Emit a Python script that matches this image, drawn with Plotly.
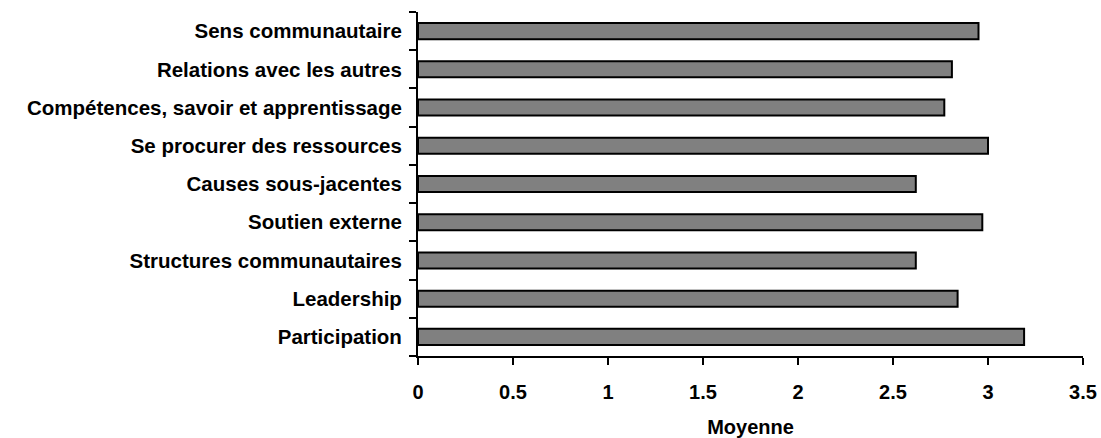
import plotly.graph_objects as go

categories = [
    "Participation",
    "Leadership",
    "Structures communautaires",
    "Soutien externe",
    "Causes sous-jacentes",
    "Se procurer des ressources",
    "Compétences, savoir et apprentissage",
    "Relations avec les autres",
    "Sens communautaire",
]
values = [3.19, 2.84, 2.62, 2.97, 2.62, 3.00, 2.77, 2.81, 2.95]
x_ticks = [0, 0.5, 1, 1.5, 2, 2.5, 3, 3.5]
x_tick_labels = ["0", "0.5", "1", "1.5", "2", "2.5", "3", "3.5"]

fig = go.Figure(
    go.Bar(
        y=categories,
        x=values,
        orientation="h",
        marker=dict(color="#808080", line=dict(color="black", width=2)),
    )
)

FAM = "Liberation Sans, Arial, sans-serif"
SZ = 20

fig.update_layout(
    width=1101,
    height=438,
    margin=dict(l=418, r=18, t=12, b=82, autoexpand=False),
    plot_bgcolor="white",
    paper_bgcolor="white",
    bargap=0.58,
    showlegend=False,
    font=dict(family=FAM, size=SZ, color="black"),
)
fig.update_xaxes(
    range=[0, 3.5],
    tickvals=x_ticks,
    ticktext=x_tick_labels,
    automargin=False,
    showgrid=False,
    zeroline=False,
    showline=True,
    linecolor="black",
    linewidth=2,
    ticks="outside",
    ticklen=7,
    tickwidth=2,
    tickcolor="black",
    tickfont=dict(family=FAM, size=SZ, weight="bold"),
    ticklabelstandoff=10,
    title=dict(text="<b>Moyenne</b>", font=dict(family=FAM, size=SZ), standoff=18),
)
fig.update_yaxes(
    type="category",
    categoryorder="array",
    categoryarray=categories,
    range=[-0.5, 8.5],
    automargin=False,
    showgrid=False,
    zeroline=False,
    showline=True,
    linecolor="black",
    linewidth=2,
    ticks="outside",
    tickson="boundaries",
    ticklen=7,
    tickwidth=2,
    tickcolor="black",
    tickfont=dict(family=FAM, size=20.5, weight="bold"),
    ticklabelstandoff=10,
)

fig.write_html("out.html")
